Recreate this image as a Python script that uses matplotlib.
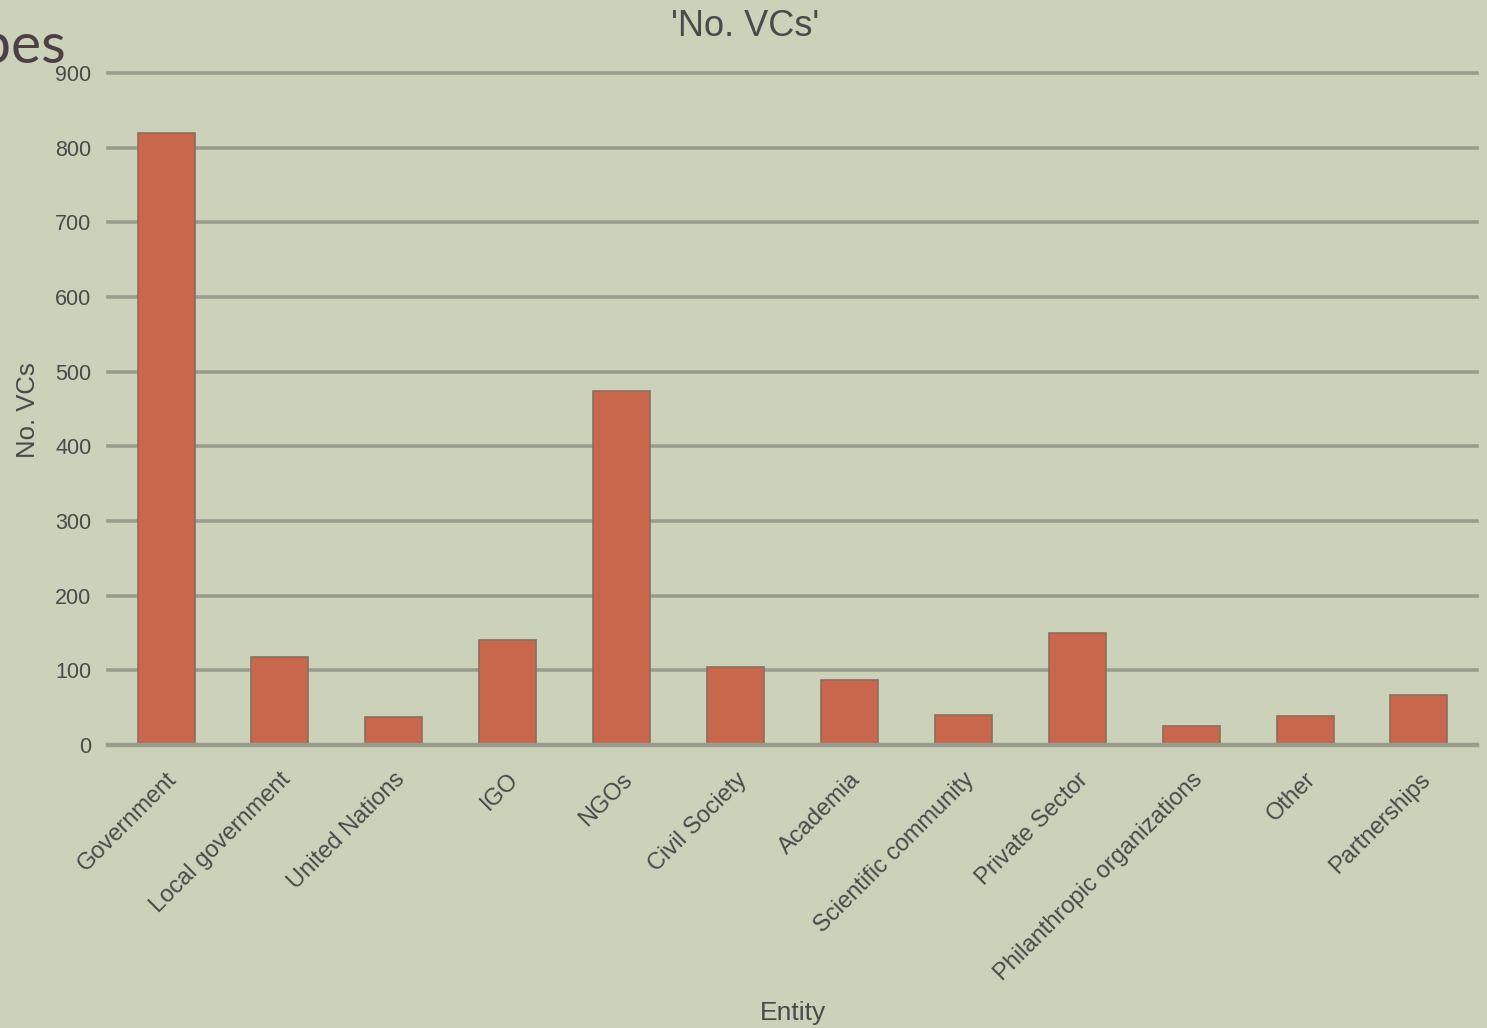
import numpy as np
import matplotlib.pyplot as plt

# data
entities = ['Government', 'Local government', 'United Nations', 'IGO', 'NGOs',
            'Civil Society', 'Academia', 'Scientific community', 'Private Sector',
            'Philanthropic organizations', 'Other', 'Partnerships']
no_vcs = [820, 118, 37, 141, 474, 105, 87, 40, 150, 25, 39, 67]
y_ticks = [0, 100, 200, 300, 400, 500, 600, 700, 800, 900]

bg = '#ccd1b9'
bar_color = '#c8674b'
text_color = '#4a4a4a'
grid_color = '#9a9d8d'

plt.rcParams['font.family'] = ['Liberation Sans', 'DejaVu Sans']

fig = plt.figure(figsize=(14.87, 10.28), dpi=100, facecolor=bg)
ax = fig.add_axes([0.0726, 0.2753, 0.9207, 0.6537], facecolor=bg)

x = np.arange(len(entities))
ax.bar(x, no_vcs, width=0.5, color=bar_color, edgecolor='#8c6e60',
       linewidth=1.2, zorder=3)

ax.set_ylim(0, 900)
ax.set_xlim(-0.51, len(entities) - 0.49)
ax.set_yticks(y_ticks)
ax.set_yticklabels([str(t) for t in y_ticks], fontsize=15.5, color=text_color)
for t in y_ticks:
    ax.axhline(t, color=grid_color, linewidth=2.6 if t else 3.2,
               zorder=4 if t == 0 else 1, clip_on=False)

ax.set_xticks(x)
ax.set_xticklabels(entities, rotation=45, ha='right', va='top',
                   rotation_mode='anchor', fontsize=17, color=text_color)
ax.tick_params(axis='both', length=0)
ax.tick_params(axis='x', pad=17)
ax.tick_params(axis='y', pad=12)

for s in ax.spines.values():
    s.set_visible(False)

fig.text(28 / 1487, 1 - 410 / 1028, 'No. VCs', fontsize=18.5, color=text_color,
         rotation=90, ha='center', va='center')
fig.text(0.5335, 1 - 1013 / 1028, 'Entity', fontsize=19, color=text_color,
         ha='center', va='center')
fig.text(0.501, 1 - 27 / 1028, "'No. VCs'", fontsize=26, color=text_color,
         ha='center', va='center')

# slide title fragment cut off at the left edge
fig.text(66 / 1487, 1 - 63 / 1028, 'Types', fontsize=41, color='#4b4043',
         ha='right', va='baseline', family=['Lato', 'DejaVu Sans'])

fig.savefig('out.png', dpi=100, facecolor=bg)
